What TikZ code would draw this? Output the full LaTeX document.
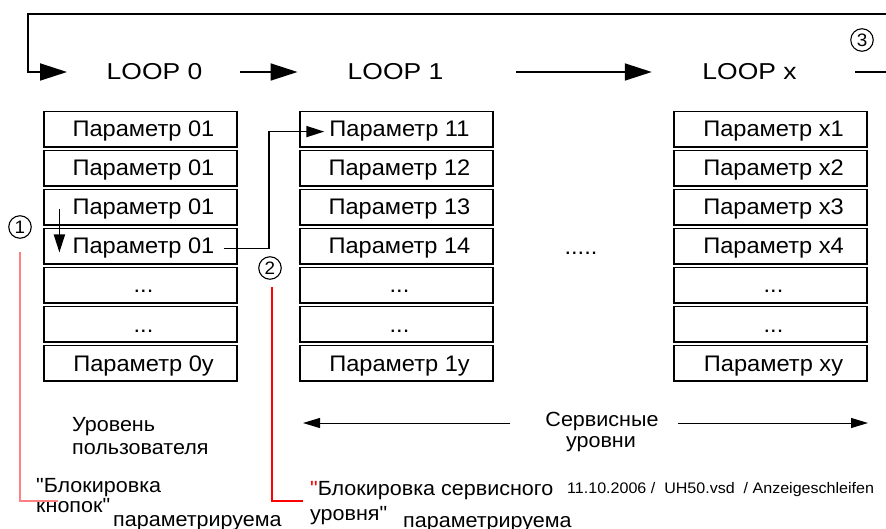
\documentclass[tikz,border=0pt]{standalone}
\usepackage{fontspec}
\setmainfont[FakeStretch=1.05, Ligatures=TeXOff]{Liberation Sans}
\newfontfamily\loopfont[FakeStretch=1.15]{Liberation Sans}
\usetikzlibrary{arrows.meta}
\definecolor{lightred}{RGB}{255,128,128}
\newcommand\tdots{...}
\newcommand\paramcol[7]{%
  \foreach \r/\lab in {1/Параметр #3, 2/Параметр #4, 3/Параметр #5, 4/Параметр #6, 5/\tdots, 6/\tdots, 7/Параметр #7}{%
    \node[rowbox] (b#1\r) at (#2, {111.5+39*(\r-1)}) {};
    \node[ptxt] (t#1\r) at ({#2+96.5+3}, {137+39*(\r-1)}) {\lab};
  }}
\begin{document}
\begin{tikzpicture}[x=1pt, y=-1pt,
  rowbox/.style={draw, line width=1.9pt, minimum width=193pt, minimum height=35.5pt, anchor=north west, inner sep=0pt, outer sep=0pt},
  ptxt/.style={anchor=base, inner sep=1pt, font=\fontsize{22.5}{27}\selectfont},
  looplab/.style={inner sep=0pt, text height=16pt, text depth=0pt, font=\loopfont\fontsize{23}{27}\selectfont},
  lab/.style={inner sep=0pt, anchor=base west, font=\fontsize{20.5}{24}\selectfont},
  labc/.style={inner sep=0pt, anchor=base, font=\fontsize{20.5}{24}\selectfont},
  circ/.style={draw, circle, line width=1.1pt, minimum size=22.5pt, inner sep=0pt, text height=12.5pt, text depth=0pt, font=\fontsize{18}{20}\selectfont},
  bigarrow/.style={line width=1.8pt, -{Triangle[length=27pt,width=17pt]}},
  midarrow/.style={line width=1.8pt, -{Triangle[length=18pt,width=11pt]}},
  thinarrow/.style={line width=1pt, -{Triangle[length=17pt,width=10pt]}},
  redline/.style={line width=1.1pt}
]
\useasboundingbox (0,0) rectangle (886,529);

% LOOP labels
\node[looplab] (L0) at (154.5,72) {LOOP 0};
\node[looplab] (L1) at (395.5,72) {LOOP 1};
\node[looplab] (Lx) at (749.5,72) {LOOP x};

% parameter columns
\paramcol{0}{44}{01}{01}{01}{01}{0y}
\paramcol{1}{300}{11}{12}{13}{14}{1y}
\paramcol{x}{674}{x1}{x2}{x3}{x4}{xy}

\node[ptxt] (dots) at (581,255) {\tdots..};

% circled numbers
\node[circ] (c1) at (20,227) {1};
\node[circ] (c2) at (270,268) {2};
\node[circ] (c3) at (862,40) {3};

% top loop connectors
\coordinate (rtop) at (886,14);
\coordinate (tl) at (28,14);
\coordinate (rmid) at (886,72);
\draw[bigarrow] (rtop) -- (tl) |- ([xshift=-39.5pt]L0.west);
\draw[line width=1.8pt] ([xshift=58.5pt]Lx.east) -- (rmid);
\draw[bigarrow] ([xshift=37.5pt]L0.east) -- ([xshift=-50pt]L1.west);
\draw[bigarrow] ([xshift=72.5pt]L1.east) -- ([xshift=-50.5pt]Lx.west);

% arrows inside
\draw[midarrow] ([xshift=-12pt]t03.west) -- ([xshift=-12pt,yshift=-4pt]t04.west);
\draw[midarrow] ([xshift=8pt]t04.east) -- ++(45,0) |- ([xshift=-4pt]t11.west);

% levels
\node[lab] (u1) at (72,431) {Уровень};
\node[lab] (u2) at (72,454) {пользователя};
\node[labc] (s1) at (602,426) {Сервисные};
\node[labc] (s2) at (601,447) {уровни};
\coordinate (dl1) at (510,423);
\coordinate (dl2) at (303,423);
\coordinate (dr1) at (678,423);
\coordinate (dr2) at (868,423);
\draw[thinarrow] (dl1) -- (dl2);
\draw[thinarrow] (dr1) -- (dr2);

% bottom notes
\node[lab] (k1) at (36,492) {"Блокировка};
\node[lab] (k2) at (36,512) {кнопок"};
\node[lab] (k3) at (113,526) {параметрируема};
\node[lab] (v1) at (310,495) {\textcolor{red}{"}Блокировка сервисного};
\node[lab] (v2) at (310,520) {уровня"};
\node[lab] (v3) at (403,527) {параметрируема};
\node[inner sep=0pt, anchor=base west, font=\fontsize{15.3}{18}\selectfont] (date) at (567,493) {11.10.2006 / \ UH50.vsd \ / Anzeigeschleifen};

% red leader lines
\coordinate (ra1) at (20,252);
\coordinate (ra2) at (58,501);
\coordinate (rb1) at (272,287);
\coordinate (rb2) at (303,501);
\draw[redline, lightred] (ra1) |- (ra2);
\draw[redline, red] (rb1) |- (rb2);
\end{tikzpicture}
\end{document}
